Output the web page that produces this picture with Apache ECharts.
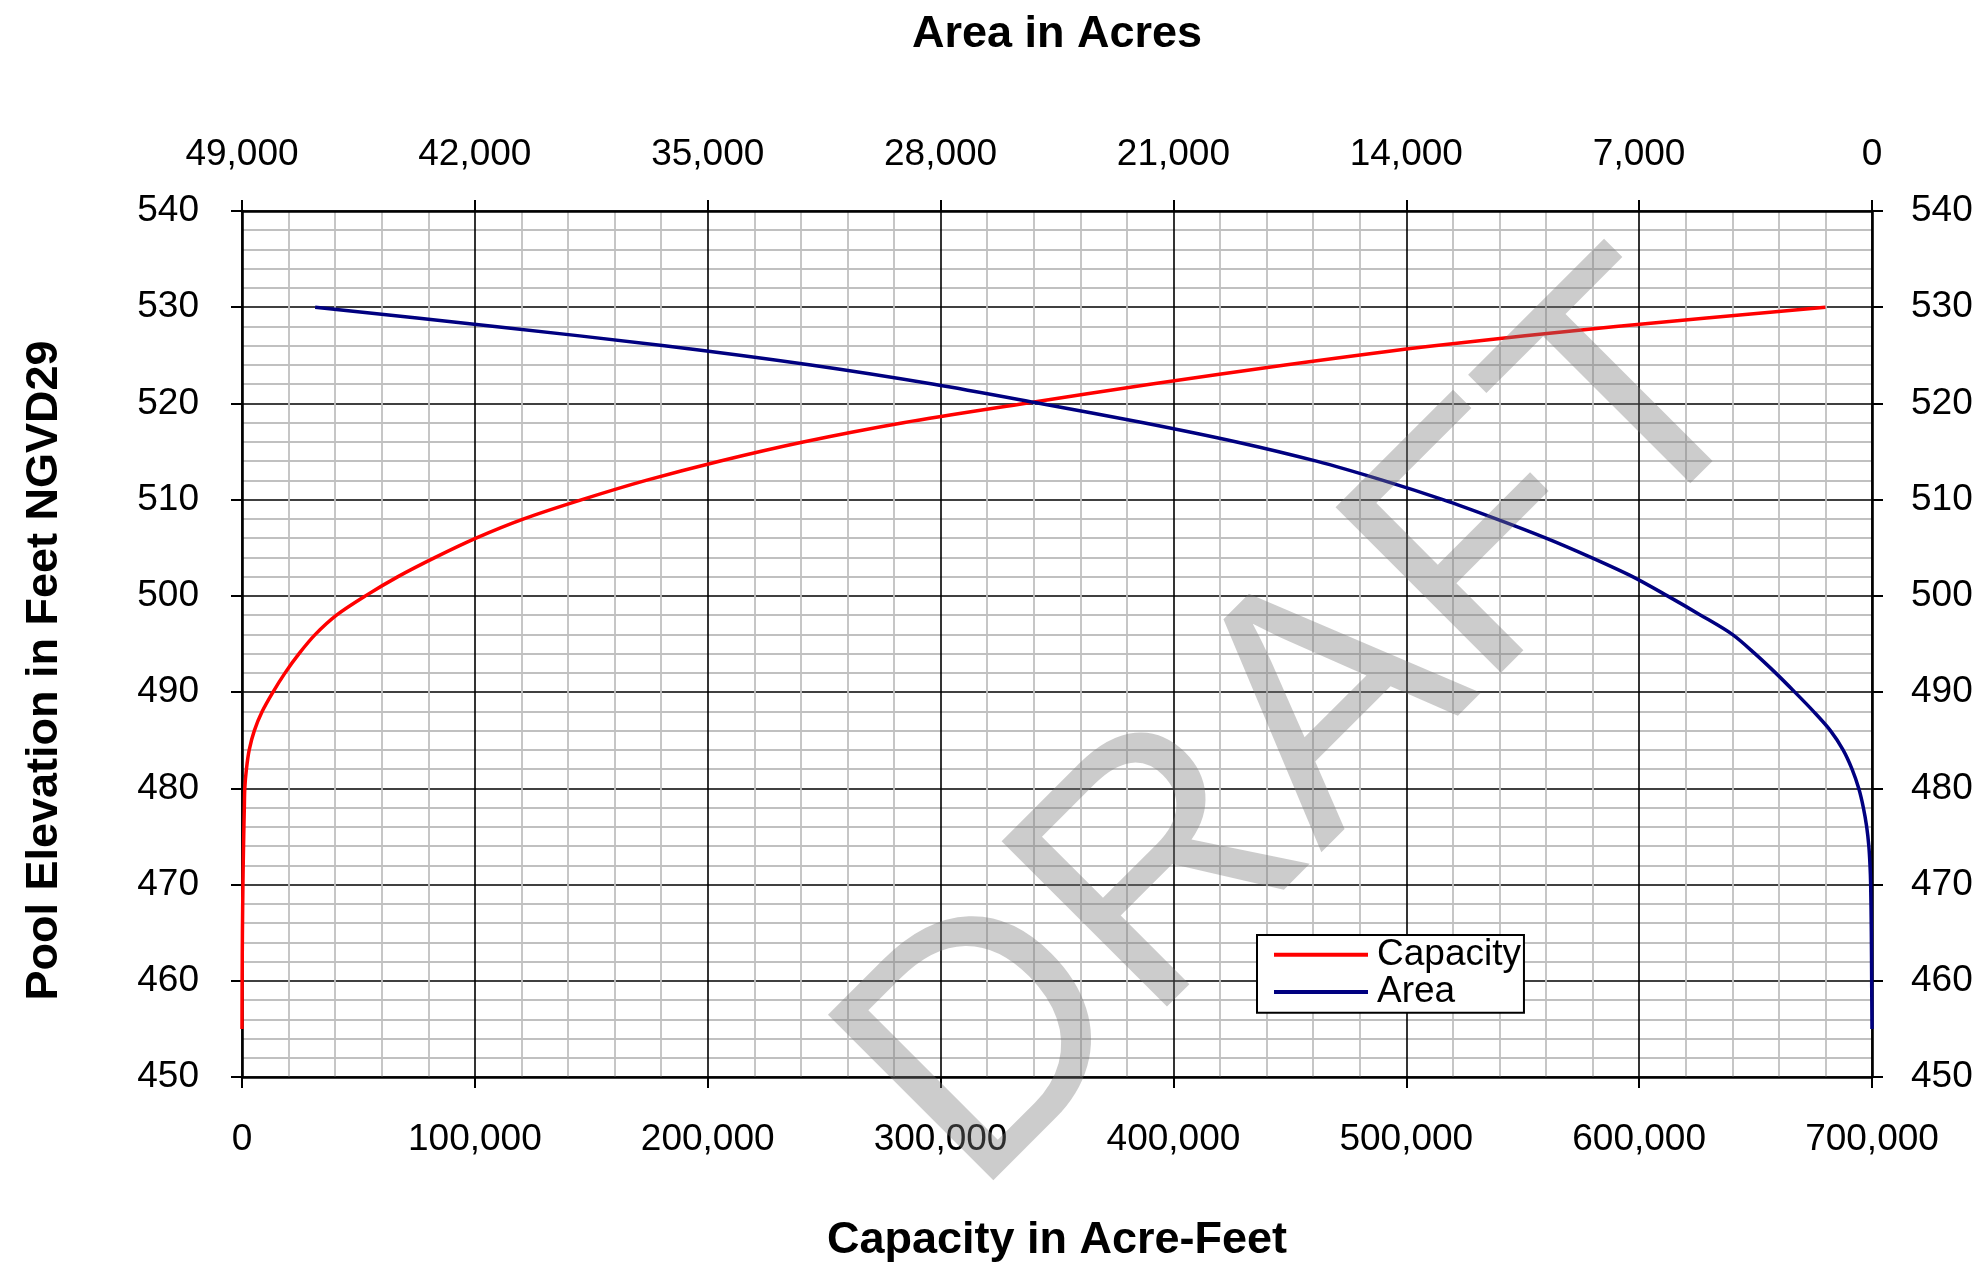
<!DOCTYPE html>
<html>
<head>
<meta charset="utf-8">
<script src="https://cdn.jsdelivr.net/npm/echarts@6/dist/echarts.min.js"></script>
<style>
html,body{margin:0;padding:0;background:#fff;}
#chart{width:1978px;height:1268px;}
</style>
</head>
<body>
<div id="chart"></div>
<script>
// Pool elevation (ft NGVD29)
const elevations = [455,460,465,470,472,474,476,478,480,482,484,486,488,490,492,494,496,498,500,502,504,506,508,510,512,514,516,518,520,522,524,526,528,530];
// Capacity in acre-feet (bottom axis)
const capacity = [0,60,180,400,520,660,820,1000,1200,1900,3100,5300,8700,13300,18500,24500,31500,40600,53000,67000,83000,100500,121000,146000,173500,205000,241000,284000,336000,390000,448000,512000,590000,680000];
// Area in acres (top axis, reversed)
const area = [0,10,20,40,60,95,160,260,400,600,870,1250,1760,2320,2900,3520,4200,5150,6150,7200,8450,9800,11300,12900,14700,16700,19100,21900,25000,28200,31900,36300,41400,46800];

const seriesNames = ['Capacity','Area'];
const capacityTicks = {min:0, max:700000, interval:100000};
const areaTicks = {min:0, max:49000, interval:7000};
const elevTicks = {min:450, max:540, interval:10};
const titles = {top:'Area in Acres', bottom:'Capacity in Acre-Feet', left:'Pool Elevation in Feet NGVD29'};
const watermark = 'DRAFT';

const FONT = "'Liberation Sans', Arial, sans-serif";
const fmt = v => Number(v).toLocaleString('en-US');

const capData = elevations.map((e,i)=>[capacity[i], e]);
const areaData = elevations.map((e,i)=>[area[i], e]);

const axisLine = {show:true, onZero:false, lineStyle:{color:'#000', width:2.6}};
const axisTick = {show:true, inside:false, length:11, lineStyle:{color:'#000', width:2}};
const labelStyle = {color:'#000', fontSize:37, fontFamily:FONT};
const majorSplit = {show:true, lineStyle:{color:'#000', width:1.6}};
const minorSplit = {show:true, lineStyle:{color:'#c0c0c0', width:1.8}};
const nameStyle = {color:'#000', fontSize:45, fontWeight:'bold', fontFamily:FONT};

const chart = echarts.init(document.getElementById('chart'), null, {renderer:'canvas'});
chart.setOption({
  animation:false,
  backgroundColor:'#fff',
  grid:{left:242, top:211, width:1630, height:869, containLabel:false},
  legend:{
    data:seriesNames,
    orient:'vertical',
    left:1257, top:935,
    padding:[1,3,2,17],
    itemGap:0,
    itemWidth:94, itemHeight:4,
    icon:'rect',
    backgroundColor:'#fff',
    borderColor:'#000', borderWidth:2,
    textStyle:{color:'#000', fontSize:37, fontFamily:FONT, lineHeight:37.4, padding:[0,0,0,4]},
    z:6
  },
  xAxis:[
    {
      type:'value', position:'bottom',
      min:capacityTicks.min, max:capacityTicks.max, interval:capacityTicks.interval,
      axisLine:axisLine, axisTick:axisTick,
      axisLabel:Object.assign({margin:44, formatter:fmt}, labelStyle),
      splitLine:majorSplit,
      minorTick:{show:false, splitNumber:5},
      minorSplitLine:minorSplit,
      name:titles.bottom, nameLocation:'middle', nameGap:141, nameTextStyle:nameStyle
    },
    {
      type:'value', position:'top', inverse:true,
      min:areaTicks.min, max:areaTicks.max, interval:areaTicks.interval,
      axisLine:axisLine, axisTick:axisTick,
      axisLabel:Object.assign({margin:38, formatter:fmt}, labelStyle),
      splitLine:{show:false},
      name:titles.top, nameLocation:'middle', nameGap:154, nameTextStyle:nameStyle
    }
  ],
  yAxis:[
    {
      type:'value', position:'left',
      min:elevTicks.min, max:elevTicks.max, interval:elevTicks.interval,
      axisLine:axisLine, axisTick:axisTick,
      axisLabel:Object.assign({margin:43, formatter:fmt, padding:[8,0,0,0]}, labelStyle),
      splitLine:majorSplit,
      minorTick:{show:false, splitNumber:5},
      minorSplitLine:minorSplit,
      name:titles.left, nameLocation:'middle', nameGap:175,
      nameTextStyle:Object.assign({padding:[0,53,0,0]}, nameStyle)
    },
    {
      type:'value', position:'right',
      min:elevTicks.min, max:elevTicks.max, interval:elevTicks.interval,
      axisLine:axisLine, axisTick:axisTick,
      axisLabel:Object.assign({margin:39, formatter:fmt, padding:[8,0,0,0]}, labelStyle),
      splitLine:{show:false}
    }
  ],
  series:[
    {
      name:seriesNames[0], type:'line', xAxisIndex:0, yAxisIndex:0,
      data:capData, showSymbol:false, symbol:'none', smooth:0.3,
      lineStyle:{color:'#ff0000', width:3.5}, itemStyle:{color:'#ff0000'}, z:3
    },
    {
      name:seriesNames[1], type:'line', xAxisIndex:1, yAxisIndex:0,
      data:areaData, showSymbol:false, symbol:'none', smooth:0.3,
      lineStyle:{color:'#000080', width:3.5}, itemStyle:{color:'#000080'}, z:3
    }
  ],
  graphic:[
    {
      type:'text', x:1308, y:733, rotation:Math.PI/4, z:10, silent:true,
      style:{text:watermark, fontSize:340, fontFamily:FONT, fill:'rgba(120,120,120,0.38)', align:'center', verticalAlign:'middle'}
    }
  ]
});
</script>
</body>
</html>
